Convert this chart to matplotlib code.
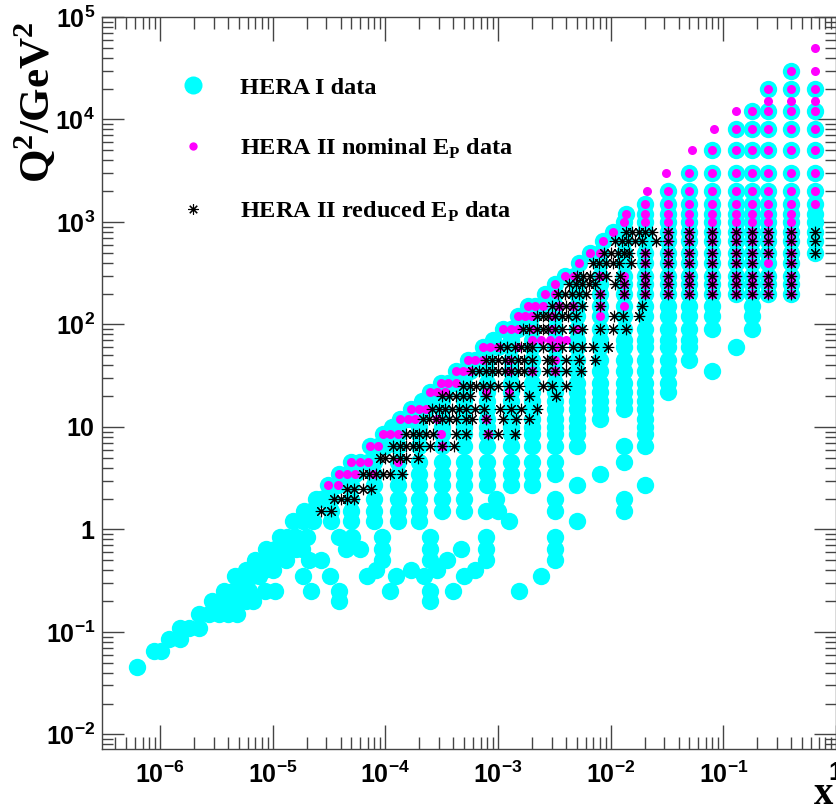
import matplotlib
matplotlib.use('Agg')
import matplotlib.pyplot as plt
from matplotlib.lines import Line2D
from matplotlib.ticker import FixedLocator, FixedFormatter, LogLocator, NullFormatter

plt.rcParams['mathtext.fontset'] = 'custom'
plt.rcParams['mathtext.sf'] = 'Liberation Sans:bold'
plt.rcParams['mathtext.bf'] = 'Liberation Serif:bold'
plt.rcParams['mathtext.rm'] = 'Liberation Serif:bold'

# ---------------- data: rows of (Q^2, list of x) ----------------
hera1_q2 = [0.045, 0.065, 0.085, 0.11, 0.15, 0.2, 0.25, 0.35, 0.4, 0.5, 0.65, 0.85,
            1.2, 1.5, 2.0, 2.7, 3.5, 4.5, 6.5, 8.5, 10, 12, 15, 18, 22, 27, 35, 45,
            60, 70, 90, 120, 150, 200, 250, 300, 400, 500, 650, 800, 1000, 1200,
            1500, 2000, 3000, 5000, 8000, 12000, 20000, 30000]
hera1_x = [
    [6.2e-7],
    [8.8e-7, 1.02e-6],
    [1.2e-6, 1.5e-6],
    [1.5e-6, 1.8e-6, 2.2e-6],
    [2.2e-6, 2.7e-6, 3.3e-6, 4.0e-6, 4.8e-6],
    [2.9e-6, 3.5e-6, 4.2e-6, 5.0e-6, 5.8e-6, 6.7e-6, 3.9e-5, 2.5e-4],
    [3.7e-6, 4.4e-6, 5.2e-6, 6.2e-6, 8.6e-6, 1.05e-5, 2.2e-5, 3.9e-5, 1.1e-4, 2.5e-4, 4.0e-4, 1.55e-3],
    [4.6e-6, 5.4e-6, 6.5e-6, 7.6e-6, 1.85e-5, 3.2e-5, 6.8e-5, 1.25e-4, 2.2e-4, 5.0e-4, 2.4e-3],
    [5.8e-6, 7.0e-6, 8.3e-6, 1.0e-5, 8.3e-5, 1.7e-4, 2.9e-4, 6.2e-4],
    [7.0e-6, 8.8e-6, 1.05e-5, 1.3e-5, 2.1e-5, 2.7e-5, 9.4e-5, 2.5e-4, 3.5e-4, 7.8e-4, 3.2e-3],
    [8.8e-6, 1.05e-5, 1.3e-5, 1.6e-5, 1.8e-5, 4.5e-5, 5.9e-5, 9.4e-5, 2.5e-4, 4.7e-4, 7.8e-4, 3.2e-3],
    [1.15e-5, 1.35e-5, 1.6e-5, 2.0e-5, 3.9e-5, 5.1e-5, 9.4e-5, 2.5e-4, 7.8e-4, 3.2e-3],
    [1.5e-5, 1.85e-5, 2.3e-5, 3.3e-5, 5e-5, 8e-5, 1.3e-4, 2e-4, 1.25e-3, 5e-3],
    [1.9e-5, 2.2e-5, 3.3e-5, 5e-5, 8e-5, 1.3e-4, 2e-4, 3.2e-4, 5e-4, 7.8e-4, 1e-3, 3.2e-3, 0.013],
    [2.4e-5, 2.7e-5, 3.3e-5, 5e-5, 8e-5, 1.3e-4, 2e-4, 3.2e-4, 5e-4, 9.6e-4, 3.2e-3, 0.013],
    [3.1e-5, 3.8e-5, 5e-5, 8e-5, 1.3e-4, 2e-4, 3.2e-4, 5e-4, 8e-4, 1.3e-3, 2e-3, 5e-3, 0.02],
    [3.9e-5, 4.6e-5, 5.4e-5, 8e-5, 1.3e-4, 2e-4, 3.2e-4, 5e-4, 8e-4, 1.3e-3, 2e-3, 3.2e-3, 8e-3],
    [5e-5, 5.9e-5, 7e-5, 8e-5, 1.3e-4, 2e-4, 3.2e-4, 5e-4, 8e-4, 1.3e-3, 2e-3, 3.2e-3, 0.013],
    [7.3e-5, 8.6e-5, 1.0e-4, 1.3e-4, 2e-4, 3.2e-4, 5e-4, 8e-4, 1.3e-3, 2e-3, 3.2e-3, 5e-3, 0.013, 0.02],
    [9.5e-5, 1.1e-4, 1.3e-4, 2e-4, 3.2e-4, 5e-4, 8e-4, 1.3e-3, 2e-3, 3.2e-3, 5e-3, 0.02],
    [1.15e-4, 1.3e-4, 2e-4, 3.2e-4, 5e-4, 8e-4, 1.3e-3, 2e-3, 3.2e-3, 5e-3, 0.02],
    [1.35e-4, 1.6e-4, 1.85e-4, 2e-4, 3.2e-4, 5e-4, 8e-4, 1.3e-3, 2e-3, 3.2e-3, 5e-3, 8e-3, 0.02],
    [1.7e-4, 2e-4, 2.3e-4, 3.2e-4, 5e-4, 8e-4, 1.3e-3, 2e-3, 3.2e-3, 5e-3, 8e-3, 0.013, 0.02],
    [2.1e-4, 2.5e-4, 3.2e-4, 5e-4, 8e-4, 1.3e-3, 2e-3, 3.2e-3, 5e-3, 8e-3, 0.013, 0.02],
    [2.5e-4, 2.9e-4, 3.4e-4, 5e-4, 8e-4, 1.3e-3, 2e-3, 3.2e-3, 5e-3, 8e-3, 0.013, 0.02, 0.032],
    [3.1e-4, 3.6e-4, 4.2e-4, 5e-4, 8e-4, 1.3e-3, 2e-3, 3.2e-3, 5e-3, 8e-3, 0.013, 0.02, 0.032],
    [4.2e-4, 4.9e-4, 5.6e-4, 8e-4, 1.3e-3, 2e-3, 3.2e-3, 5e-3, 8e-3, 0.013, 0.02, 0.032, 0.08],
    [5.4e-4, 6.3e-4, 7.3e-4, 8e-4, 1.3e-3, 2e-3, 3.2e-3, 5e-3, 8e-3, 0.013, 0.02, 0.032, 0.05],
    [7.3e-4, 8.5e-4, 1e-3, 1.3e-3, 2e-3, 3.2e-3, 5e-3, 8e-3, 0.013, 0.02, 0.032, 0.05, 0.13],
    [9e-4, 1.3e-3, 2e-3, 3.2e-3, 5e-3, 8e-3, 0.013, 0.02, 0.032, 0.05],
    [1.1e-3, 1.3e-3, 1.5e-3, 2e-3, 3.2e-3, 5e-3, 8e-3, 0.013, 0.02, 0.032, 0.05, 0.08, 0.18],
    [1.5e-3, 1.75e-3, 2e-3, 3.2e-3, 5e-3, 8e-3, 0.013, 0.02, 0.032, 0.05, 0.08, 0.18],
    [1.85e-3, 2.15e-3, 2.5e-3, 3.2e-3, 5e-3, 8e-3, 0.013, 0.02, 0.032, 0.05, 0.08, 0.18],
    [2.6e-3, 3.2e-3, 5e-3, 8e-3, 0.013, 0.02, 0.032, 0.05, 0.08, 0.13, 0.18, 0.25, 0.4],
    [3.2e-3, 5e-3, 8e-3, 0.013, 0.02, 0.032, 0.05, 0.08, 0.13, 0.18, 0.25, 0.4],
    [3.9e-3, 4.7e-3, 8e-3, 0.013, 0.02, 0.032, 0.05, 0.08, 0.13, 0.18, 0.25, 0.4],
    [5.2e-3, 8e-3, 0.013, 0.02, 0.032, 0.05, 0.08, 0.13, 0.18, 0.25, 0.4],
    [6.6e-3, 8e-3, 0.013, 0.02, 0.032, 0.05, 0.08, 0.13, 0.18, 0.25, 0.4, 0.65],
    [8.5e-3, 0.013, 0.02, 0.032, 0.05, 0.08, 0.13, 0.18, 0.25, 0.4, 0.65],
    [0.0104, 0.013, 0.02, 0.032, 0.05, 0.08, 0.13, 0.18, 0.25, 0.4, 0.65],
    [0.013, 0.02, 0.032, 0.05, 0.08, 0.13, 0.18, 0.25, 0.4, 0.65],
    [0.0136, 0.02, 0.032, 0.05, 0.08, 0.13, 0.18, 0.25, 0.4, 0.65],
    [0.02, 0.032, 0.05, 0.08, 0.13, 0.18, 0.25, 0.4, 0.65],
    [0.032, 0.05, 0.08, 0.13, 0.18, 0.25, 0.4, 0.65],
    [0.05, 0.08, 0.13, 0.18, 0.25, 0.4, 0.65],
    [0.08, 0.13, 0.18, 0.25, 0.4, 0.65],
    [0.13, 0.18, 0.25, 0.4, 0.65],
    [0.18, 0.25, 0.4, 0.65],
    [0.25, 0.4, 0.65],
    [0.4],
]

nominal_q2 = [2.7, 3.5, 4.5, 6.5, 8.5, 12, 15, 22, 27, 35, 45, 60, 70, 90, 120, 150,
              200, 250, 300, 400, 500, 650, 800, 1000, 1200, 1500, 2000, 3000, 5000,
              8000, 12000, 15000, 20000, 30000, 50000]
nominal_x = [
    [3.1e-5, 3.8e-5],
    [3.9e-5, 4.6e-5, 5.4e-5, 7.8e-5],
    [5e-5, 5.9e-5, 7e-5, 1.3e-4],
    [7.3e-5, 8.6e-5, 3.2e-4],
    [9.5e-5, 1.1e-4, 1.3e-4, 3.1e-4, 8.1e-4],
    [1.35e-4, 1.6e-4, 1.85e-4, 2.9e-4, 7.8e-4],
    [1.7e-4, 2e-4, 2.3e-4],
    [2.5e-4, 2.9e-4, 3.4e-4, 7.8e-4, 1.25e-3],
    [3.1e-4, 3.6e-4, 4.2e-4],
    [4.2e-4, 4.9e-4, 5.6e-4, 1.25e-3, 2e-3, 3.2e-3],
    [5.4e-4, 6.3e-4, 7.3e-4, 1.25e-3, 3.2e-3],
    [7.3e-4, 8.5e-4, 1e-3, 1.5e-3, 3.2e-3],
    [2e-3, 2.4e-3, 2.9e-3, 3.5e-3, 4e-3],
    [1.1e-3, 1.3e-3, 1.5e-3, 2e-3, 3e-3, 5e-3],
    [1.5e-3, 1.75e-3, 2e-3, 3e-3, 8e-3],
    [1.85e-3, 2.15e-3, 2.5e-3, 3.5e-3, 4.6e-3, 8e-3, 0.013],
    [2.6e-3, 3.2e-3, 8e-3, 0.013, 0.02, 0.032, 0.05, 0.08, 0.13, 0.18, 0.25, 0.4],
    [3.2e-3, 0.013, 0.02, 0.032, 0.05, 0.08, 0.13, 0.18, 0.25, 0.4],
    [3.9e-3, 4.7e-3, 8e-3, 0.013, 0.02, 0.032, 0.05, 0.08, 0.13, 0.18, 0.25, 0.4],
    [5.2e-3, 0.02, 0.032, 0.05, 0.08, 0.13, 0.18, 0.25, 0.4],
    [6.6e-3, 8e-3, 0.02, 0.032, 0.05, 0.08, 0.13, 0.18, 0.25, 0.4],
    [8.5e-3, 0.032, 0.05, 0.08, 0.13, 0.18, 0.25, 0.4],
    [0.0104, 0.032, 0.05, 0.08, 0.13, 0.18, 0.25, 0.4],
    [0.013, 0.02, 0.032, 0.05, 0.08, 0.13, 0.18, 0.25, 0.4],
    [0.0136, 0.02, 0.032, 0.05, 0.08, 0.13, 0.18, 0.25, 0.4],
    [0.02, 0.032, 0.05, 0.08, 0.13, 0.18, 0.25, 0.4, 0.65],
    [0.021, 0.032, 0.05, 0.08, 0.13, 0.18, 0.25, 0.4, 0.65],
    [0.031, 0.05, 0.08, 0.13, 0.18, 0.25, 0.4, 0.65],
    [0.053, 0.08, 0.13, 0.18, 0.25, 0.4, 0.65],
    [0.083, 0.13, 0.18, 0.25, 0.4, 0.65],
    [0.13, 0.18, 0.25, 0.4, 0.65],
    [0.25, 0.4, 0.65],
    [0.25, 0.4, 0.65],
    [0.4, 0.65],
    [0.65],
]

reduced_q2 = [1.5, 2.0, 2.5, 3.5, 5, 6.5, 8.5, 12, 15, 20, 25, 35, 45, 60, 90, 120,
              150, 200, 250, 300, 400, 500, 650, 800]
reduced_x = [
    [2.7e-5, 3.3e-5],
    [3.5e-5, 4.05e-5, 4.6e-5, 5.3e-5],
    [4.6e-5, 5.3e-5, 6.3e-5, 7.5e-5],
    [6.3e-5, 7.2e-5, 8.3e-5, 9.5e-5, 1.1e-4, 1.4e-4],
    [8.9e-5, 1.0e-4, 1.17e-4, 1.34e-4, 1.53e-4, 1.94e-4],
    [1.17e-4, 1.34e-4, 1.53e-4, 1.75e-4, 2e-4, 2.5e-4, 3.2e-4, 4.1e-4],
    [1.53e-4, 1.75e-4, 2e-4, 2.3e-4, 2.65e-4, 4.2e-4, 5.2e-4, 8.1e-4, 1e-3, 1.4e-3],
    [2.15e-4, 2.45e-4, 2.8e-4, 3.2e-4, 3.7e-4, 4.2e-4, 5.2e-4, 5.9e-4, 7.8e-4, 1.1e-3, 1.45e-3, 1.9e-3],
    [2.6e-4, 3e-4, 3.4e-4, 3.9e-4, 4.5e-4, 5.2e-4, 6.2e-4, 7.5e-4, 1.05e-3, 1.3e-3, 1.6e-3, 2.2e-3],
    [3.2e-4, 3.7e-4, 4.2e-4, 4.9e-4, 5.6e-4, 7.8e-4, 1.25e-3, 1.9e-3, 3.3e-3],
    [4.9e-4, 5.6e-4, 6.4e-4, 7.3e-4, 8.5e-4, 1.0e-3, 1.25e-3, 1.55e-3, 2.5e-3, 3e-3, 4e-3],
    [5.9e-4, 6.8e-4, 7.8e-4, 8.9e-4, 1.0e-3, 1.15e-3, 1.3e-3, 1.5e-3, 1.7e-3, 2e-3, 2.7e-3, 3.2e-3, 4e-3, 5.5e-3],
    [7.8e-4, 8.9e-4, 1.0e-3, 1.15e-3, 1.3e-3, 1.5e-3, 1.7e-3, 2e-3, 2.7e-3, 3e-3, 4e-3, 5.2e-3, 7.2e-3],
    [1.05e-3, 1.2e-3, 1.4e-3, 1.6e-3, 1.8e-3, 2e-3, 2.5e-3, 3e-3, 3.7e-3, 4.6e-3, 5.6e-3, 6.9e-3, 9.4e-3],
    [1.65e-3, 1.9e-3, 2.2e-3, 2.5e-3, 2.8e-3, 3.2e-3, 3.7e-3, 4.6e-3, 5.6e-3, 8e-3, 0.0104, 0.0136],
    [2.2e-3, 2.5e-3, 2.8e-3, 3.2e-3, 3.7e-3, 4.2e-3, 4.9e-3, 0.0108, 0.0128, 0.018],
    [3e-3, 3.5e-3, 4e-3, 4.6e-3, 5.6e-3, 8e-3, 0.019],
    [3.4e-3, 3.9e-3, 4.5e-3, 5.2e-3, 6e-3, 8e-3, 0.013, 0.02, 0.032, 0.05, 0.08, 0.13, 0.18, 0.25, 0.4],
    [4.3e-3, 4.9e-3, 5.6e-3, 6.4e-3, 7.3e-3, 0.011, 0.013, 0.02, 0.032, 0.05, 0.08, 0.13, 0.18, 0.25, 0.4],
    [5e-3, 5.7e-3, 6.6e-3, 7.8e-3, 9e-3, 0.012, 0.02, 0.032, 0.05, 0.08, 0.13, 0.18, 0.25, 0.4],
    [6.9e-3, 7.8e-3, 9e-3, 0.0104, 0.0118, 0.015, 0.02, 0.032, 0.05, 0.08, 0.13, 0.18, 0.4],
    [8.8e-3, 0.01, 0.0115, 0.013, 0.0145, 0.02, 0.032, 0.05, 0.08, 0.13, 0.18, 0.25, 0.4, 0.65],
    [0.011, 0.0125, 0.0143, 0.0163, 0.019, 0.025, 0.032, 0.05, 0.08, 0.13, 0.18, 0.25, 0.4, 0.65],
    [0.0136, 0.0155, 0.0178, 0.02, 0.0233, 0.032, 0.05, 0.08, 0.13, 0.18, 0.25, 0.4, 0.65],
]

x_tick_vals = [1e-6, 1e-5, 1e-4, 1e-3, 1e-2, 1e-1, 1.0]
x_tick_labels = [r'$\mathsf{10^{-6}}$', r'$\mathsf{10^{-5}}$', r'$\mathsf{10^{-4}}$',
                 r'$\mathsf{10^{-3}}$', r'$\mathsf{10^{-2}}$', r'$\mathsf{10^{-1}}$', r'$\mathsf{1}$']
y_tick_vals = [1e-2, 1e-1, 1.0, 10.0, 1e2, 1e3, 1e4, 1e5]
y_tick_labels = [r'$\mathsf{10^{-2}}$', r'$\mathsf{10^{-1}}$', r'$\mathsf{1}$', r'$\mathsf{10}$',
                 r'$\mathsf{10^{2}}$', r'$\mathsf{10^{3}}$', r'$\mathsf{10^{4}}$', r'$\mathsf{10^{5}}$']

labels = ['HERA I data', r'HERA II nominal E$_{\mathbf{P}}$ data', r'HERA II reduced E$_{\mathbf{P}}$ data']


def flatten(q2s, xrows):
    xs, qs = [], []
    for q, row in zip(q2s, xrows):
        for x in row:
            xs.append(x)
            qs.append(q)
    return xs, qs


x1, q1 = flatten(hera1_q2, hera1_x)
x2, q2 = flatten(nominal_q2, nominal_x)
x3, q3 = flatten(reduced_q2, reduced_x)

W, H = 837, 807
fig = plt.figure(figsize=(W / 100, H / 100), dpi=100)
ax = fig.add_axes([102 / W, 58 / H, 734 / W, 732 / H])
ax.set_xscale('log')
ax.set_yscale('log')

cyan = '#00FFFF'
magenta = '#FF00FF'
star = (8, 2, 0)

ax.plot(x1, q1, ls='none', marker='o', ms=12.5, color=cyan, mec='none')
ax.plot(x2, q2, ls='none', marker='o', ms=6.5, color=magenta, mec='none')
ax.plot(x3, q3, ls='none', marker=star, ms=8.2, color='black', mew=0.8)

ax.set_xlim(3.05e-7, 1.0)
ax.set_ylim(0.0072, 1e5)

ax.xaxis.set_major_locator(FixedLocator(x_tick_vals))
ax.xaxis.set_major_formatter(FixedFormatter(x_tick_labels))
ax.yaxis.set_major_locator(FixedLocator(y_tick_vals))
ax.yaxis.set_major_formatter(FixedFormatter(y_tick_labels))
ax.xaxis.set_minor_locator(LogLocator(base=10, subs=range(2, 10), numticks=50))
ax.yaxis.set_minor_locator(LogLocator(base=10, subs=range(2, 10), numticks=50))
ax.xaxis.set_minor_formatter(NullFormatter())
ax.yaxis.set_minor_formatter(NullFormatter())

tick_color = '#444444'
ax.tick_params(which='both', direction='in', top=True, right=True, color=tick_color,
               width=1.0, labelsize=18, labelcolor='black')
ax.tick_params(axis='x', which='major', length=17, pad=9)
ax.tick_params(axis='x', which='minor', length=8.5)
ax.tick_params(axis='y', which='major', length=16, pad=5)
ax.tick_params(axis='y', which='minor', length=8)
for s in ax.spines.values():
    s.set_color(tick_color)
    s.set_linewidth(1.0)

handles = [
    Line2D([], [], ls='none', marker='o', ms=13, color=cyan, mec='none'),
    Line2D([], [], ls='none', marker='o', ms=6, color=magenta, mec='none'),
    Line2D([], [], ls='none', marker=star, ms=7.5, color='black', mew=0.8),
]
leg = ax.legend(handles, labels, loc='upper left', bbox_to_anchor=(0.094, 0.932),
                borderaxespad=0, frameon=False, handlelength=1.0, handletextpad=1.43,
                labelspacing=1.58, borderpad=0.4,
                prop={'family': 'Liberation Serif', 'weight': 'bold', 'size': 17.5})

fig.text(35 / W, 1 - 102 / H, r'Q$^{\mathbf{2}}$/GeV$^{\mathbf{2}}$', rotation=90,
         ha='center', va='center', family='Liberation Serif', weight='bold', fontsize=31)
fig.text(833 / W, 1 - 795 / H, 'x', ha='right', va='center',
         family='Liberation Serif', weight='bold', fontsize=28)

fig.savefig('out.png', dpi=100)
